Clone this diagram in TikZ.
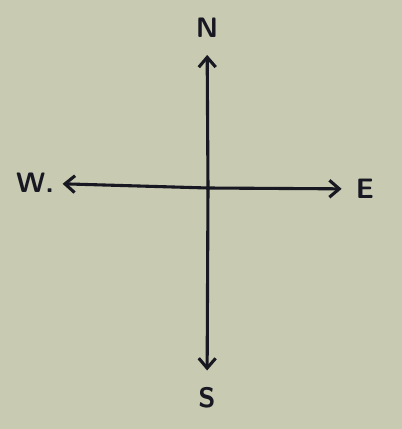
\documentclass[tikz,border=0pt]{standalone}
\usepackage{tikz}
\usetikzlibrary{arrows.meta}
\usepackage{xcolor}
\definecolor{paper}{RGB}{201,202,178}
\definecolor{ink}{RGB}{24,24,34}

\begin{document}
\begin{tikzpicture}[>={Straight Barb[length=7pt,width=12pt,line width=2.2pt]},x=0.025cm,y=-0.025cm,
  lbl/.style={font=\sffamily\bfseries\fontsize{20}{24}\selectfont,text=ink,inner sep=0pt}]
\fill[paper] (0,0) rectangle (402,429);
\coordinate (c) at (208,188);
\node[lbl] (n) at (207,28) {N};
\node[lbl] (s) at (207,398) {S};
\node[lbl] (w) at (35,183) {W.};
\node[lbl] (e) at (365,189) {E};
\foreach \d/\s in {n/12pt,s/12pt,w/6pt,e/10pt}
  \draw[->,ink,line width=2.2pt,line cap=round,shorten >=\s] (c) -- (\d);
\end{tikzpicture}
\end{document}
